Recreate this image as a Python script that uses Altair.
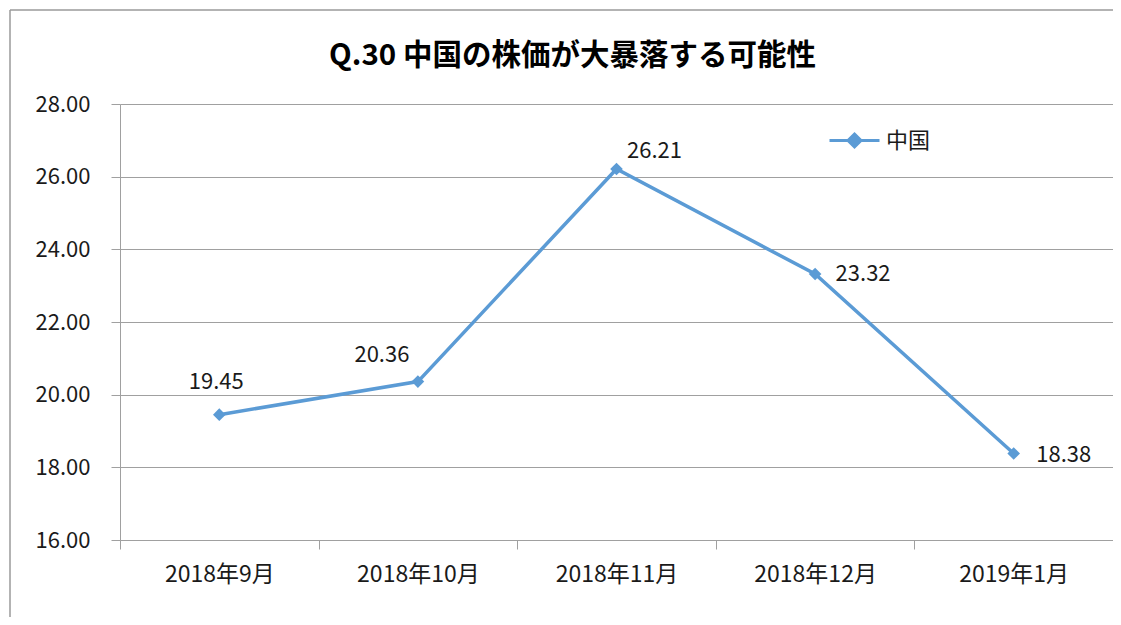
import altair as alt
import pandas as pd

# ---- data ----
months = ["2018年9月", "2018年10月", "2018年11月", "2018年12月", "2019年1月"]
values = [19.45, 20.36, 26.21, 23.32, 18.38]
series_name = "中国"
title_text = "Q.30 中国の株価が大暴落する可能性"
y_ticks = [16, 18, 20, 22, 24, 26, 28]

df = pd.DataFrame({
    "month": months,
    "value": values,
    "series": [series_name] * len(months),
    "idx": list(range(len(months))),
})

FONT = "Noto Sans CJK JP"
BLUE = "#5B9BD5"
GRID = "#A0A0A0"
TXT = "#1a1a1a"
W, H = 993, 436

x_enc = alt.X(
    "month:N", sort=months, title=None,
    scale=alt.Scale(type="band", paddingInner=0, paddingOuter=0),
    axis=alt.Axis(labelAngle=0, tickBand="extent", domainColor=GRID, tickColor=GRID,
                  tickSize=9, labelFontSize=23, labelPadding=14, labelColor=TXT,
                  labelFont=FONT, grid=False, domainWidth=1, tickWidth=1),
)
y_enc = alt.Y(
    "value:Q", title=None,
    scale=alt.Scale(domain=[16, 28], nice=False, zero=False),
    axis=alt.Axis(values=y_ticks, format=".2f", domainColor=GRID, tickColor=GRID,
                  gridColor=GRID, grid=True, tickSize=9, labelFontSize=22,
                  labelPadding=21, labelColor=TXT, labelFont=FONT,
                  domainWidth=1, tickWidth=1, gridWidth=1),
)

base = alt.Chart(df)

legend_path = "M-1,0L1,0M0,-0.26L0.26,0L0,0.26L-0.26,0Z"

line = base.mark_line(strokeWidth=3.5).encode(
    x=x_enc, y=y_enc,
    color=alt.Color(
        "series:N",
        scale=alt.Scale(domain=[series_name], range=[BLUE]),
        legend=alt.Legend(title=None, orient="none", legendX=708, legendY=10,
                          symbolType=legend_path, symbolSize=2500,
                          symbolStrokeWidth=3, symbolFillColor=BLUE,
                          symbolStrokeColor=BLUE, labelFont=FONT,
                          labelFontSize=22, labelColor=TXT, labelOffset=5,
                          padding=0),
    ),
)

points = base.mark_point(shape="diamond", filled=True, size=160, color=BLUE, opacity=1).encode(
    x=x_enc, y=y_enc
)

offsets = [(-3, -33), (-36, -27), (38, -18), (48, 0), (50, 1)]
label_layers = []
for i, (ddx, ddy) in enumerate(offsets):
    label_layers.append(
        base.transform_filter(alt.datum.idx == i).mark_text(
            dx=ddx, dy=ddy, fontSize=22, font=FONT, color=TXT,
            align="center", baseline="middle",
        ).encode(x=x_enc, y=y_enc, text=alt.Text("value:Q", format=".2f"))
    )

# decorative chart-area frame (left and top edges)
frame_left = base.transform_filter(alt.datum.idx == 0).mark_rule(color="#9a9a9a", strokeWidth=1.5).encode(
    x=alt.value(-110), y=alt.value(-94), y2=alt.value(H + 120)
)
frame_top = base.transform_filter(alt.datum.idx == 0).mark_rule(color="#9a9a9a", strokeWidth=1.5).encode(
    x=alt.value(-110), x2=alt.value(W + 10), y=alt.value(-94)
)

chart = alt.layer(frame_left, frame_top, line, points, *label_layers).properties(
    width=W, height=H,
    title=alt.TitleParams(title_text, font=FONT, fontSize=29.5, fontWeight="bold",
                          color="#000000", anchor="middle", dx=-44, offset=0, dy=62),
    autosize=alt.AutoSizeParams(type="none"),
    padding={"left": 112, "top": 96, "right": 0, "bottom": 77},
).configure_view(stroke=None)

chart.save("out.html", embed_options={"renderer": "svg", "actions": False})
